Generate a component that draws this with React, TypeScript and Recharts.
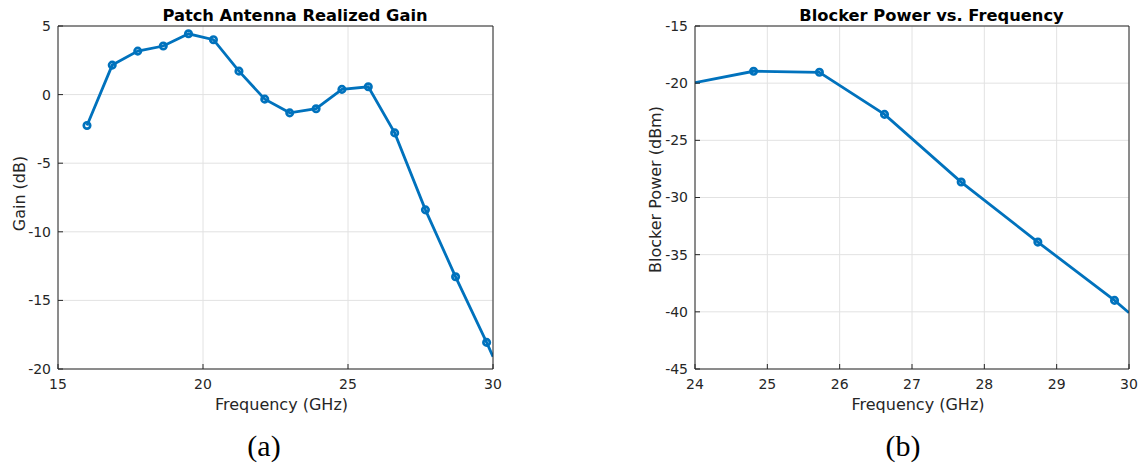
import React from 'react';
import { LineChart, Line, XAxis, YAxis, CartesianGrid } from 'recharts';

// ---- Data ----
const gainFreqGHz = [16.0, 16.87, 17.75, 18.63, 19.5, 20.36, 21.24, 22.13, 22.99, 23.9, 24.79, 25.7, 26.61, 27.67, 28.71, 29.78, 30.0];
const gainDb = [-2.25, 2.15, 3.17, 3.54, 4.43, 4.0, 1.71, -0.33, -1.33, -1.03, 0.38, 0.57, -2.79, -8.4, -13.28, -18.06, -19.1];

const blockerFreqGHz = [24.0, 24.81, 25.72, 26.62, 27.68, 28.74, 29.8, 30.0];
const blockerDbm = [-19.96, -18.96, -19.05, -22.73, -28.65, -33.9, -39.0, -40.08];

const gainXTicks = [15, 20, 25, 30];
const gainYTicks = [-20, -15, -10, -5, 0, 5];
const blockerXTicks = [24, 25, 26, 27, 28, 29, 30];
const blockerYTicks = [-45, -40, -35, -30, -25, -20, -15];

const gainData = gainFreqGHz.map((x, i) => ({ x, y: gainDb[i] }));
const blockerData = blockerFreqGHz.map((x, i) => ({ x, y: blockerDbm[i] }));

const BLUE = '#0072BD';
const AXIS = '#262626';
const GRID = '#e2e2e2';
const FONT = '"DejaVu Sans", sans-serif';

function makeDot(xMin: number, xMax: number) {
  return (p: any) => {
    const { cx, cy, index, payload } = p;
    if (payload.x <= xMin || payload.x >= xMax) return <g key={`d${index}`} />;
    return <circle key={`d${index}`} cx={cx} cy={cy} r={3.2} fill="none" stroke={BLUE} strokeWidth={2.7} />;
  };
}

type PanelProps = {
  data: { x: number; y: number }[];
  xTicks: number[];
  yTicks: number[];
  width: number;
  margin: { top: number; right: number; bottom: number; left: number };
  xLabel: string;
  yLabel: string;
  yLabelDx: number;
  yLabelDy: number;
};

function Panel({ data, xTicks, yTicks, width, margin, xLabel, yLabel, yLabelDx, yLabelDy }: PanelProps) {
  const xDomain: [number, number] = [xTicks[0], xTicks[xTicks.length - 1]];
  const yDomain: [number, number] = [yTicks[0], yTicks[yTicks.length - 1]];
  const tickStyle = { fill: AXIS, fontSize: 14, fontFamily: FONT };
  return (
    <LineChart width={width} height={420} data={data} margin={margin}>
      <CartesianGrid xAxisId="b" yAxisId="l" stroke={GRID} strokeWidth={1} />
      <XAxis
        xAxisId="b"
        dataKey="x"
        type="number"
        domain={xDomain}
        ticks={xTicks}
        interval={0}
        allowDataOverflow
        height={45}
        tickSize={-5}
        tickMargin={15}
        stroke={AXIS}
        tick={tickStyle}
        label={{ value: xLabel, position: 'insideBottom', offset: 4, dx: 6, fill: AXIS, fontSize: 16, fontFamily: FONT }}
      />
      <XAxis
        xAxisId="t"
        orientation="top"
        dataKey="x"
        type="number"
        domain={xDomain}
        ticks={xTicks}
        interval={0}
        allowDataOverflow
        height={1}
        tickSize={-5}
        stroke={AXIS}
        tick={false}
      />
      <YAxis
        yAxisId="l"
        type="number"
        domain={yDomain}
        ticks={yTicks}
        interval={0}
        allowDataOverflow
        width={58}
        tickSize={-5}
        tickMargin={12}
        stroke={AXIS}
        tick={tickStyle}
        label={{ value: yLabel, angle: -90, position: 'center', dx: yLabelDx, dy: yLabelDy, fill: AXIS, fontSize: 16, fontFamily: FONT }}
      />
      <YAxis
        yAxisId="r"
        orientation="right"
        type="number"
        domain={yDomain}
        ticks={yTicks}
        interval={0}
        allowDataOverflow
        width={1}
        tickSize={-5}
        stroke={AXIS}
        tick={false}
      />
      <Line
        xAxisId="b"
        yAxisId="l"
        dataKey="y"
        type="linear"
        stroke={BLUE}
        strokeWidth={2.8}
        dot={makeDot(xDomain[0], xDomain[1])}
        activeDot={false}
        isAnimationActive={false}
      />
    </LineChart>
  );
}

export default function App() {
  return (
    <div style={{ position: 'absolute', left: 0, top: 0, width: 1143, height: 466, background: '#fff', overflow: 'hidden' }}>
      <div style={{ position: 'absolute', left: 0, top: 0 }}>
        <Panel
          data={gainData}
          xTicks={gainXTicks}
          yTicks={gainYTicks}
          width={571}
          margin={{ top: 25, right: 77, bottom: 6, left: 0 }}
          xLabel="Frequency (GHz)"
          yLabel="Gain (dB)"
          yLabelDx={-10}
          yLabelDy={-4}
        />
      </div>
      <div style={{ position: 'absolute', left: 571, top: 0 }}>
        <Panel
          data={blockerData}
          xTicks={blockerXTicks}
          yTicks={blockerYTicks}
          width={572}
          margin={{ top: 25, right: 13, bottom: 6, left: 66 }}
          xLabel="Frequency (GHz)"
          yLabel="Blocker Power (dBm)"
          yLabelDx={-11}
          yLabelDy={-8}
        />
      </div>
      <svg width={1143} height={466} style={{ position: 'absolute', left: 0, top: 0, pointerEvents: 'none' }}>
        <text x={295} y={20.5} textAnchor="middle" fontFamily={FONT} fontWeight="bold" fontSize={16.3} fill="#000">
          Patch Antenna Realized Gain
        </text>
        <text x={931.5} y={20.5} textAnchor="middle" fontFamily={FONT} fontWeight="bold" fontSize={16.3} fill="#000">
          Blocker Power vs. Frequency
        </text>
        <text x={264} y={456} textAnchor="middle" fontFamily='"Liberation Serif", serif' fontSize={30} fill="#000">
          (a)
        </text>
        <text x={903} y={456} textAnchor="middle" fontFamily='"Liberation Serif", serif' fontSize={30} fill="#000">
          (b)
        </text>
      </svg>
    </div>
  );
}
